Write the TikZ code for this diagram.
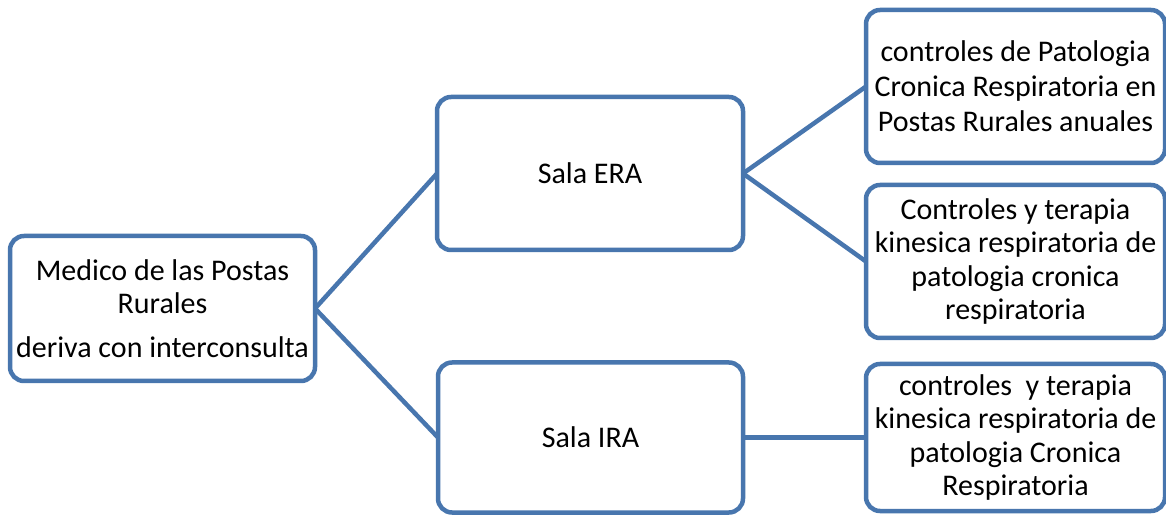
\documentclass[tikz,border=0pt]{standalone}
\usepackage{fontspec}
\setmainfont{Carlito}
\definecolor{boxblue}{RGB}{72,118,174}
\begin{document}
\begin{tikzpicture}[x=1pt, y=1pt,
    caja/.style={draw=boxblue, line width=4.5pt, rounded corners=14pt, fill=white,
      inner sep=0pt, outer sep=0pt, align=center,
      font=\fontsize{30}{33.5}\selectfont},
    enlace/.style={draw=boxblue, line width=4.5pt}]
	  \useasboundingbox (0,0) rectangle (1166,514);

	  \node[caja, minimum width=305, minimum height=145] (med) at (162.5, 205.5)
	    {Medico de las Postas\\Rurales\\[10pt]deriva con interconsulta};
	  \node[caja, minimum width=306, minimum height=153] (era) at (590, 340.5) {Sala ERA};
	  \node[caja, minimum width=305, minimum height=150] (ira) at (590.5, 76.5) {Sala IRA};

	  \node[caja, minimum width=299, minimum height=153] (pcr) at (1015.5, 427.5)
	    {controles de Patologia\\[1.5pt]Cronica Respiratoria en\\[1.5pt]Postas Rurales anuales};
	  \node[caja, minimum width=299, minimum height=153] (kte) at (1015.5, 252.5)
	    {Controles y terapia\\kinesica respiratoria de\\patologia cronica\\respiratoria};
	  \node[caja, minimum width=299, minimum height=147] (kti) at (1015.5, 76.5)
	    {controles\ \ y terapia\\kinesica respiratoria de\\patologia Cronica\\Respiratoria};

	  \draw[enlace] (med.east) -- (era.west);
	  \draw[enlace] (med.east) -- (ira.west);
	  \draw[enlace] (era.east) -- (pcr.west);
	  \draw[enlace] (era.east) -- (kte.west);
	  \draw[enlace] (ira.east) -- (kti.west);
\end{tikzpicture}
\end{document}
